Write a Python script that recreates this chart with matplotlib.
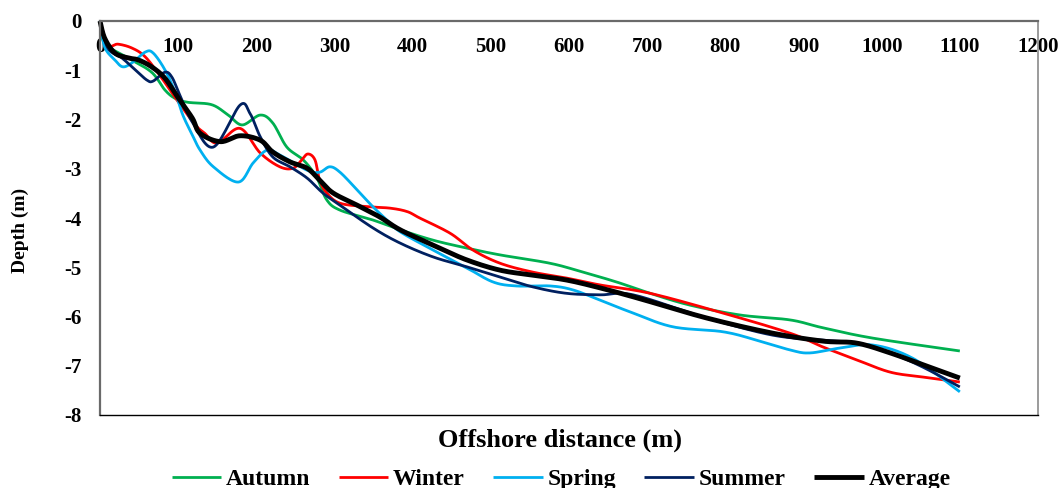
"""
Seasonal beach profiles: depth vs. offshore distance.
"""

import numpy as np
import matplotlib
matplotlib.use("Agg")
import matplotlib.pyplot as plt

# profile points (distance in m, depth in m)
autumn_x = [0, 6, 36, 66, 83, 96, 112, 143, 164, 182, 205, 221, 239, 260, 277, 290, 307,
            349, 384, 426, 469, 512, 576, 618, 661, 704, 755, 819, 883, 925, 989, 1100]
autumn_y = [0, -0.45, -0.75, -1.04, -1.4, -1.57, -1.65, -1.7, -1.91, -2.11, -1.91, -2.07,
            -2.56, -2.82, -3.17, -3.63, -3.84, -4.04, -4.24, -4.45, -4.61, -4.75, -4.92,
            -5.1, -5.3, -5.53, -5.77, -5.97, -6.07, -6.23, -6.44, -6.7]

winter_x = [0, 10, 23, 41, 58, 79, 100, 122, 134, 150, 179, 205, 230, 247, 258, 266, 275,
            281, 290, 307, 342, 371, 393, 409, 448, 477, 512, 554, 597, 640, 704, 797, 883,
            925, 968, 1011, 1053, 1100]
winter_y = [0, -0.49, -0.47, -0.55, -0.73, -1.16, -1.64, -2.11, -2.28, -2.48, -2.18, -2.68,
            -2.96, -2.99, -2.82, -2.7, -2.82, -3.23, -3.49, -3.7, -3.77, -3.8, -3.87, -4.0,
            -4.31, -4.65, -4.92, -5.1, -5.22, -5.36, -5.53, -5.93, -6.34, -6.62, -6.88,
            -7.13, -7.23, -7.33]

spring_x = [0, 6, 19, 29, 41, 58, 68, 83, 96, 106, 118, 128, 145, 177, 196, 214, 230, 265,
            281, 294, 307, 329, 349, 367, 384, 426, 469, 503, 533, 576, 605, 640, 682, 733,
            797, 840, 883, 908, 947, 989, 1040, 1100]
spring_y = [0, -0.53, -0.79, -0.93, -0.85, -0.63, -0.65, -0.99, -1.44, -1.91, -2.31, -2.62,
            -2.96, -3.27, -2.88, -2.62, -2.72, -3.03, -3.07, -2.96, -3.07, -3.43, -3.77,
            -4.04, -4.28, -4.65, -5.01, -5.3, -5.38, -5.38, -5.46, -5.67, -5.93, -6.21,
            -6.31, -6.48, -6.68, -6.74, -6.64, -6.58, -6.85, -7.53]

summer_x = [0, 10, 28, 45, 60, 68, 83, 92, 102, 118, 145, 179, 192, 205, 221, 243, 265, 285,
            307, 349, 384, 426, 469, 512, 554, 597, 640, 682, 776, 861, 925, 968, 1011, 1053,
            1100]
summer_y = [0, -0.55, -0.75, -0.99, -1.2, -1.22, -1.04, -1.14, -1.5, -2.05, -2.56, -1.71,
            -1.88, -2.35, -2.76, -2.96, -3.19, -3.49, -3.74, -4.2, -4.51, -4.79, -4.99, -5.2,
            -5.4, -5.53, -5.56, -5.56, -6.03, -6.38, -6.48, -6.54, -6.74, -7.03, -7.43]

average_x = [0, 6, 19, 36, 49, 66, 83, 100, 118, 128, 154, 179, 205, 221, 243, 265, 281, 298,
             329, 358, 384, 426, 469, 512, 554, 597, 640, 691, 776, 861, 925, 968, 1011, 1053,
             1100]
average_y = [0, -0.35, -0.65, -0.75, -0.79, -0.93, -1.16, -1.56, -1.97, -2.28, -2.45, -2.33,
             -2.42, -2.66, -2.86, -2.99, -3.23, -3.49, -3.74, -3.98, -4.24, -4.55, -4.85,
             -5.06, -5.16, -5.26, -5.42, -5.64, -6.03, -6.34, -6.5, -6.54, -6.74, -6.98, -7.25]

x_ticks = [0, 100, 200, 300, 400, 500, 600, 700, 800, 900, 1000, 1100, 1200]
y_ticks = [0, -1, -2, -3, -4, -5, -6, -7, -8]


def smooth(xs, ys, n=16):
    """Catmull-Rom curve through the points (like Excel's smoothed line)."""
    p = np.column_stack([xs, ys]).astype(float)
    p = np.vstack([p[0], p, p[-1]])
    t = np.linspace(0, 1, n, endpoint=False)[:, None]
    out = []
    for i in range(1, len(p) - 2):
        p0, p1, p2, p3 = p[i - 1], p[i], p[i + 1], p[i + 2]
        seg = 0.5 * ((2 * p1) + (-p0 + p2) * t + (2 * p0 - 5 * p1 + 4 * p2 - p3) * t ** 2
                     + (-p0 + 3 * p1 - 3 * p2 + p3) * t ** 3)
        out.append(seg)
    out.append(p[-2][None, :])
    out = np.vstack(out)
    return out[:, 0], out[:, 1]


plt.rcParams['font.family'] = ['Liberation Serif', 'DejaVu Serif']
plt.rcParams['font.weight'] = 'bold'

fig = plt.figure(figsize=(10.59, 4.88), dpi=100)
ax = fig.add_axes([100 / 1059, 1 - 415 / 488, 938 / 1059, 394 / 488])

series = [
    ("Autumn", autumn_x, autumn_y, "#00B050", 2.0),
    ("Winter", winter_x, winter_y, "#FF0000", 2.0),
    ("Spring", spring_x, spring_y, "#00B0F0", 2.0),
    ("Summer", summer_x, summer_y, "#002060", 2.0),
    ("Average", average_x, average_y, "#000000", 3.5),
]
for name, xs, ys, color, lw in series:
    sx, sy = smooth(xs, ys)
    ax.plot(sx, sy, color=color, linewidth=lw, label=name, clip_on=False,
            solid_capstyle='butt')

ax.set_xlim(0, 1200)
ax.set_ylim(-8, 0)
ax.set_xticks(x_ticks)
ax.set_yticks(y_ticks)
ax.set_yticklabels([str(v) for v in y_ticks])

# x tick labels sit just under the sea-level axis at the top
ax.tick_params(axis='x', top=True, bottom=False, labeltop=True, labelbottom=False,
               length=0, pad=-26, labelsize=15)
ax.tick_params(axis='y', length=0, pad=13, labelsize=15)

for side in ('top', 'left'):
    ax.spines[side].set_color('#6a6a6a')
    ax.spines[side].set_linewidth(1.6)
ax.spines['right'].set_color('#8a8a8a')
ax.spines['right'].set_linewidth(1.2)
ax.spines['bottom'].set_color('black')
ax.spines['bottom'].set_linewidth(1.0)

fig.text(560 / 1059, 1 - 440 / 488, "Offshore distance (m)", ha='center', va='center',
         fontsize=19, fontweight='bold')
fig.text(20 / 1059, 1 - 230 / 488, "Depth (m)", ha='center', va='center', rotation=90,
         fontsize=14, fontweight='bold')

fig.legend(loc='center', bbox_to_anchor=(561 / 1059, 1 - 479 / 488), ncol=5, frameon=False,
           prop={'size': 17, 'weight': 'bold'}, handlelength=2.1, handletextpad=0.2,
           columnspacing=1.2, borderpad=0)

fig.savefig("out.png", dpi=100)
